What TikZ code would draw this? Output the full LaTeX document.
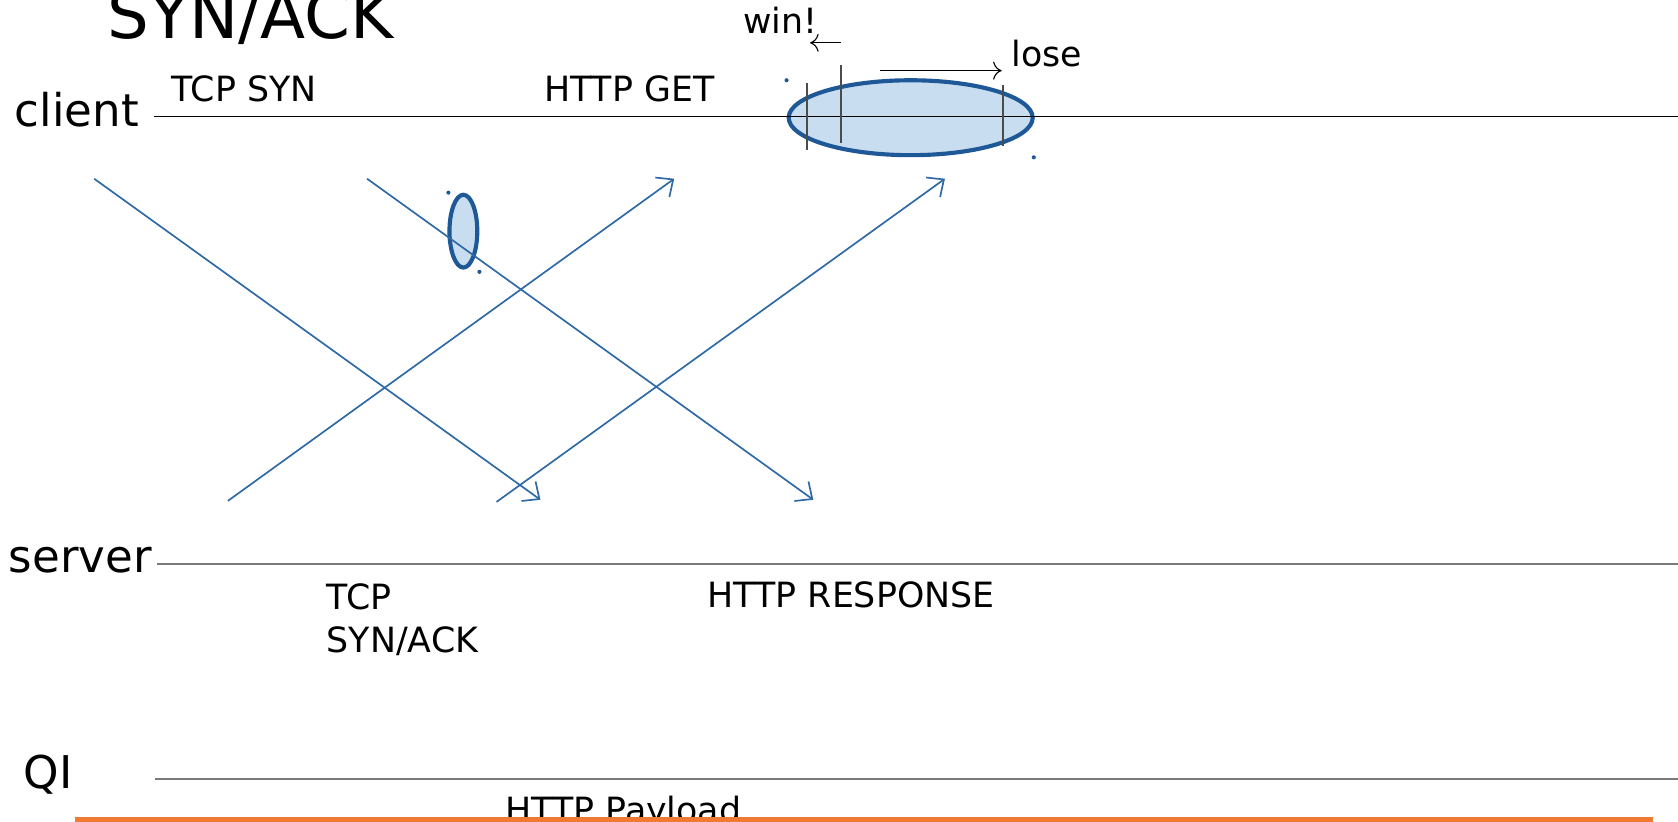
\documentclass[tikz,border=0pt]{standalone}
\usepackage{fontspec}
\setmainfont{DejaVu Sans}
\usetikzlibrary{arrows.meta}

\definecolor{msgblue}{HTML}{2F6AA6}
\definecolor{hitblue}{HTML}{1E5896}
\definecolor{hitfill}{HTML}{C9DDF1}
\definecolor{lanegray}{HTML}{7A7A7A}
\definecolor{payorange}{HTML}{F07A32}

\newcommand{\lanefont}{\fontsize{24}{28}\selectfont}
\newcommand{\msgfont}{\fontsize{18.5}{22.8}\selectfont}
\newcommand{\headfont}{\fontsize{35}{40}\selectfont}

\tikzset{
  lane/.style={line width=1.3pt, draw=lanegray},
  msg/.style={draw=msgblue, line width=0.9pt, -{Straight Barb[length=2.5mm,width=4.5mm]}},
  hitzone/.style={draw=hitblue, fill=hitfill, line width=2.2pt},
  tickline/.style={draw=black!70, line width=0.9pt},
  lbl/.style={inner sep=0pt, anchor=base west},
}

\begin{document}
\begin{tikzpicture}[x=0.02cm, y=-0.02cm]
                        % \helpgrid{3}{3}
                        \useasboundingbox (0,0) rectangle (1568,768);

                        \node [lbl, font=\headfont] (title) at (100,36) {SYN/ACK};

                        % lanes
                        \node [lbl, anchor=base east, font=\lanefont] (client) at (130,118) {client};
                        \node [lbl, font=\lanefont] (server) at (8,535) {server};
                        \node [lbl, font=\lanefont] (qi) at (22,737) {QI};
                        \coordinate (clientstart) at (144,109); \coordinate (clientend) at (1568,109);
                        \coordinate (serverstart) at (147,527); \coordinate (serverend) at (1568,527);
                        \coordinate (qistart) at (145,728);     \coordinate (qiend) at (1568,728);

                        % marks on the client side, drawn below the lane
                        \draw [hitzone] (433,216) ellipse [x radius=13, y radius=34];
                        \draw [hitzone] (851,110) ellipse [x radius=114, y radius=35];
                        \fill [hitblue] (419,180) circle [radius=1.1pt] (448,254) circle [radius=1.1pt];
                        \fill [hitblue] (735,75) circle [radius=1.1pt] (966,147) circle [radius=1.1pt];

                        \draw [line width=0.85pt] (clientstart) -- (clientend);
                        \draw [lane] (serverstart) -- (serverend);
                        \draw [lane] (qistart) -- (qiend);

                        \draw [tickline] (754,78)--(754,140);
                        \draw [tickline] (786,61)--(786,134);
                        \draw [tickline] (937,79)--(937,136);

                        % messages
                        \node [lbl, font=\msgfont] (syn) at (160,95) {TCP SYN};
                        \node [lbl, font=\msgfont] (get) at (508,95) {HTTP GET};
                        \node [lbl, font=\msgfont, align=left, anchor=north west] (synack) at (305,545) {TCP\\SYN/ACK};
                        \node [lbl, font=\msgfont] (resp) at (661,568) {HTTP RESPONSE};
                        \node [lbl, font=\msgfont] (payload) at (472,769) {HTTP Payload};

                        \coordinate (syn0) at (88,167);   \coordinate (syn1) at (505,467);
                        \coordinate (get0) at (343,167);  \coordinate (get1) at (760,467);
                        \coordinate (ack0) at (213,468);  \coordinate (ack1) at (630,167);
                        \coordinate (resp0) at (464,469); \coordinate (resp1) at (883,167);
                        \draw [msg] (syn0)--(syn1);
                        \draw [msg] (get0)--(get1);
                        \draw [msg] (ack0)--(ack1);
                        \draw [msg] (resp0)--(resp1);

                        % win / lose
                        \node [lbl, font=\msgfont] (win) at (694,31) {win!};
                        \node [lbl, font=\msgfont] (lose) at (945,62) {lose};
                        \coordinate (winfrom) at (786,40);  \coordinate (winto) at (757,40);
                        \coordinate (losefrom) at (822,66); \coordinate (loseto) at (936,66);
                        \draw [-{To[length=1.6mm]}, line width=0.6pt] (winfrom) -- (winto);
                        \draw [-{To[length=1.6mm]}, line width=0.6pt] (losefrom) -- (loseto);

                        \fill [payorange] (70,763) rectangle (1545,772);
                    \end{tikzpicture}
\end{document}
